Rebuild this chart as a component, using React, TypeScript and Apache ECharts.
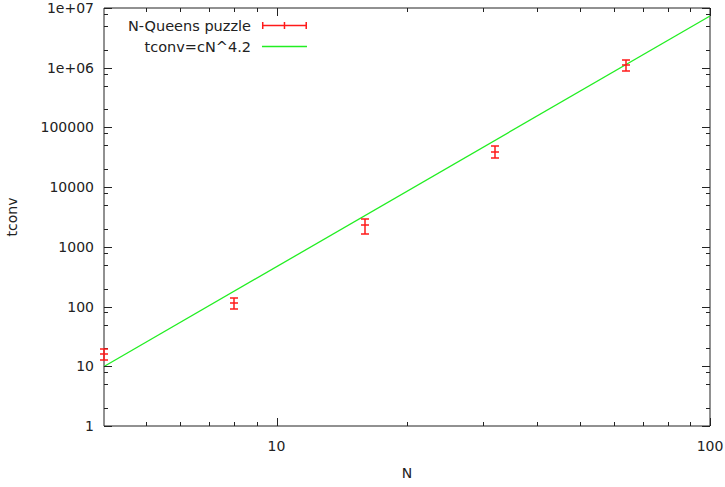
import React, { useEffect, useRef } from 'react';
import * as echarts from 'echarts';

// Data
const queensN = [4, 8, 16, 32, 64];
const queensT = [16, 114, 2300, 39500, 1100000];
const queensErr = [3.5, 23, 640, 8700, 230000];

const fitN = [4, 100];
const fitT = [9.9, 7350000];

const xMin = 4;
const xMax = 100;
const yMin = 1;
const yMax = 10000000;

const xTickValues = [10, 100];
const xTickLabels = ['10', '100'];
const yTickValues = [1, 10, 100, 1000, 10000, 100000, 1000000, 10000000];
const yTickLabels = ['1', '10', '100', '1000', '10000', '100000', '1e+06', '1e+07'];
const xMinorTicks = [5, 6, 7, 8, 9, 20, 30, 40, 50, 60, 70, 80, 90];
const yMinorTicks = [
  2, 5, 8, 20, 50, 80, 200, 500, 800, 2000, 5000, 8000,
  20000, 50000, 80000, 200000, 500000, 800000, 2000000, 5000000, 8000000,
];

const FONT = 'DejaVu Sans';
const INK = '#222';
const RED = '#ff1a1a';
const GREEN = '#22ee22';

function makeFormatter(vals: number[], labels: string[]) {
  return (v: number) => {
    const i = vals.findIndex((t) => Math.abs(Math.log10(t) - Math.log10(v)) < 1e-6);
    return i >= 0 ? labels[i] : '';
  };
}

function tickSeries(axis: 'x' | 'y', values: number[], len: number) {
  return {
    type: 'custom',
    silent: true,
    clip: false,
    z: 5,
    data: values.map((v) => (axis === 'x' ? [v, yMin] : [xMin, v])),
    renderItem: (params: any, api: any) => {
      const cs = params.coordSys;
      const p = api.coord([api.value(0), api.value(1)]);
      const st = { stroke: INK, lineWidth: 1 };
      if (axis === 'x') {
        const x = Math.round(p[0]) + 0.5;
        const b = cs.y + cs.height;
        const t = cs.y;
        return {
          type: 'group',
          children: [
            { type: 'line', shape: { x1: x, y1: b, x2: x, y2: b - len }, style: st },
            { type: 'line', shape: { x1: x, y1: t, x2: x, y2: t + len }, style: st },
          ],
        };
      }
      const y = Math.round(p[1]) + 0.5;
      const l = cs.x;
      const r = cs.x + cs.width;
      return {
        type: 'group',
        children: [
          { type: 'line', shape: { x1: l, y1: y, x2: l + len, y2: y }, style: st },
          { type: 'line', shape: { x1: r, y1: y, x2: r - len, y2: y }, style: st },
        ],
      };
    },
  };
}

export default function App() {
  const ref = useRef<HTMLDivElement>(null);

  useEffect(() => {
    if (!ref.current) return;
    const chart = echarts.init(ref.current, null, { renderer: 'svg' });

    const option: any = {
      animation: false,
      textStyle: { fontFamily: FONT },
      grid: {
        left: 104,
        right: 15,
        top: 8,
        bottom: 61,
        containLabel: false,
        outerBoundsMode: 'none',
        show: true,
        borderColor: INK,
        borderWidth: 1,
        backgroundColor: 'transparent',
      },
      legend: {
        orient: 'vertical',
        align: 'right',
        left: 128,
        top: 18,
        padding: 0,
        itemWidth: 45,
        itemHeight: 7,
        itemGap: 6,
        selectedMode: false,
        textStyle: { fontFamily: FONT, fontSize: 14.5, color: INK, padding: [0, 6, 0, 0] },
        data: [
          {
            name: 'N-Queens puzzle',
            icon: 'path://M0,2.75h45v1.5h-45z M0,0h1.5v7h-1.5z M21.75,0h1.5v7h-1.5z M43.5,0h1.5v7h-1.5z',
            itemStyle: { color: RED },
          },
          {
            name: 'tconv=cN^4.2',
            icon: 'path://M0,2.85h45v1.3h-45z M0,0h0.01v0.01h-0.01z M44.99,6.99h0.01v0.01h-0.01z',
            itemStyle: { color: GREEN },
          },
        ],
      },
      xAxis: {
        type: 'log',
        logBase: 10,
        min: xMin,
        max: xMax,
        name: 'N',
        nameLocation: 'middle',
        nameGap: 40,
        nameTextStyle: { fontFamily: FONT, fontSize: 14, color: INK },
        axisLine: { show: false },
        axisTick: { show: false },
        splitLine: { show: false },
        axisLabel: {
          fontFamily: FONT,
          fontSize: 14,
          color: INK,
          margin: 13,
          showMinLabel: false,
          hideOverlap: false,
          formatter: makeFormatter(xTickValues, xTickLabels),
        },
      },
      yAxis: {
        type: 'log',
        logBase: 10,
        min: yMin,
        max: yMax,
        name: 'tconv',
        nameLocation: 'middle',
        nameGap: 85,
        nameTextStyle: { fontFamily: FONT, fontSize: 14, color: INK },
        axisLine: { show: false },
        axisTick: { show: false },
        splitLine: { show: false },
        axisLabel: {
          fontFamily: FONT,
          fontSize: 14,
          color: INK,
          margin: 10,
          formatter: makeFormatter(yTickValues, yTickLabels),
        },
      },
      series: [
        {
          name: 'tconv=cN^4.2',
          type: 'line',
          data: fitN.map((n, i) => [n, fitT[i]]),
          symbol: 'none',
          showSymbol: false,
          lineStyle: { color: GREEN, width: 1.3 },
          itemStyle: { color: GREEN },
          z: 3,
        },
        tickSeries('x', xTickValues, 8),
        tickSeries('x', xMinorTicks, 4),
        tickSeries('y', yTickValues, 8),
        tickSeries('y', yMinorTicks, 4),
        {
          name: 'N-Queens puzzle',
          type: 'custom',
          clip: false,
          z: 10,
          itemStyle: { color: RED },
          data: queensN.map((n, i) => [n, queensT[i], queensErr[i]]),
          encode: { x: 0, y: 1 },
          renderItem: (params: any, api: any) => {
            const x = api.value(0);
            const y = api.value(1);
            const e = api.value(2);
            const c = api.coord([x, y]);
            const lo = api.coord([x, y - e]);
            const hi = api.coord([x, y + e]);
            const px = Math.round(c[0]);
            const h = 4;
            const st = { stroke: RED, lineWidth: 1.5 };
            const ly = Math.round(lo[1]);
            const hy = Math.round(hi[1]);
            const cy = Math.round(c[1]);
            return {
              type: 'group',
              children: [
                { type: 'line', shape: { x1: px, y1: ly, x2: px, y2: hy }, style: st },
                { type: 'line', shape: { x1: px - h, y1: ly, x2: px + h, y2: ly }, style: st },
                { type: 'line', shape: { x1: px - h, y1: hy, x2: px + h, y2: hy }, style: st },
                { type: 'line', shape: { x1: px - h, y1: cy, x2: px + h, y2: cy }, style: st },
              ],
            };
          },
        },
      ],
    };

    chart.setOption(option);
    return () => chart.dispose();
  }, []);

  return (
    <div
      ref={ref}
      style={{ position: 'fixed', left: 0, top: 0, width: 725, height: 487, background: '#fff' }}
    />
  );
}
